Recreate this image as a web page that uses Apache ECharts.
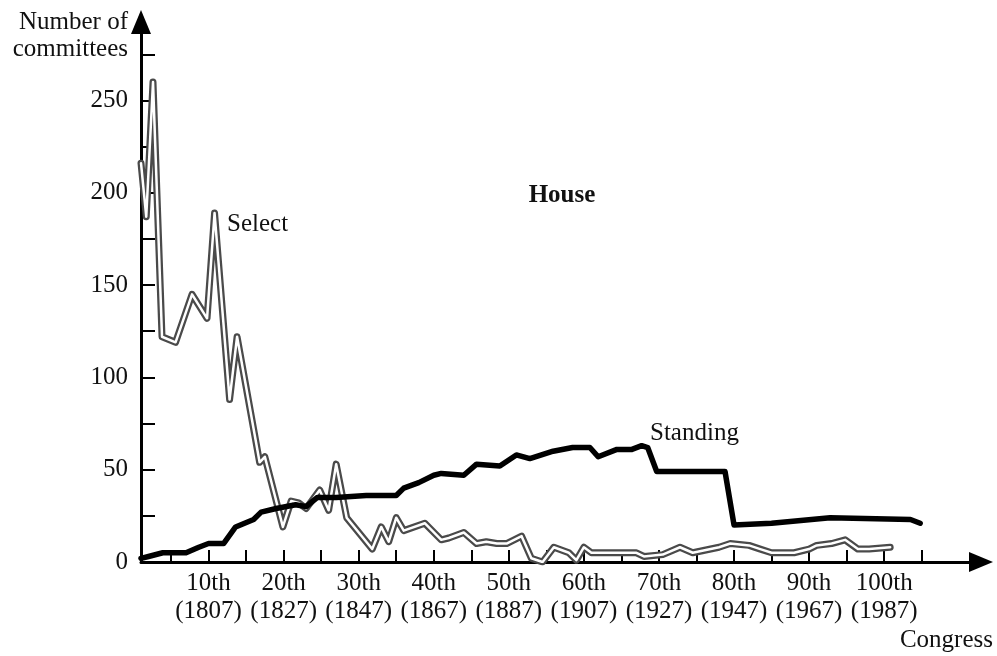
<!DOCTYPE html>
<html>
<head>
<meta charset="utf-8">
<script src="https://cdn.jsdelivr.net/npm/echarts@6/dist/echarts.min.js"></script>
<style>
  html, body { margin: 0; padding: 0; background: #fff; }
  #chart { width: 997px; height: 656px; }
</style>
</head>
<body>
<div id="chart"></div>
<script>
// Select committees (congress number, count)
const selectCongress = [1, 1.7, 2.6, 3.8, 5.6, 7.8, 9.8, 10.8, 12.8, 13.8, 16.8, 17.5, 19.9, 21, 22, 23, 24.8, 26, 27, 28.4, 29,
  31.8, 33, 34, 35, 36, 38.8, 41, 42, 44, 45.7, 47, 48.4, 49.7, 51.7, 53, 54.5, 56, 58, 59, 60, 61, 64.5, 67, 68,
  70.5, 72.8, 74.5, 78, 79.5, 82, 83.5, 85, 88, 90, 91, 93, 94.8, 96.5, 98, 100.8];
const selectCount = [216, 187, 260, 122, 119, 145, 132, 189, 88, 122, 54, 57, 19, 33, 32, 29, 39, 28, 53, 24, 21,
  7, 19, 11, 24, 17, 21, 12, 13, 16, 10, 11, 10, 10, 14, 2, 0, 8, 5, 1, 8, 5, 5, 5, 3,
  4, 8, 5, 8, 10, 9, 7, 5, 5, 7, 9, 10, 12, 7, 7, 8];

// Standing committees
const standingCongress = [1, 2, 3.9, 7, 8.7, 10, 12, 13.6, 16, 17, 19, 21.6, 23, 24.5, 27, 31, 35, 36, 38, 40, 41, 44,
  45.7, 48.8, 51, 52.8, 55.9, 58.5, 60.8, 61.9, 64.4, 66.4, 67.7, 68.5, 69.7, 78.8, 80, 85, 92.8, 103.5, 104.8];
const standingCount = [2, 3, 5, 5, 8, 10, 10, 19, 23, 27, 29, 31, 30, 35, 35, 36, 36, 40, 43, 47, 48, 47,
  53, 52, 58, 56, 60, 62, 62, 57, 61, 61, 63, 62, 49, 49, 20, 21, 24, 23, 21];

// axis ticks and labels
const congressTicks = [5, 10, 15, 20, 25, 30, 35, 40, 45, 50, 55, 60, 65, 70, 75, 80, 85, 90, 95, 100, 105];
const labelCongress = [10, 20, 30, 40, 50, 60, 70, 80, 90, 100];
const congressLabels = ['10th', '20th', '30th', '40th', '50th', '60th', '70th', '80th', '90th', '100th'];
const yearLabels = ['(1807)', '(1827)', '(1847)', '(1867)', '(1887)', '(1907)', '(1927)', '(1947)', '(1967)', '(1987)'];
const countTicks = [25, 50, 75, 100, 125, 150, 175, 200, 225, 250, 275];
const countLabels = [0, 50, 100, 150, 200, 250];

const FONT = '"Liberation Serif", "DejaVu Serif", serif';

const chart = echarts.init(document.getElementById('chart'));

const selectData = selectCongress.map((c, i) => [c, selectCount[i]]);
const standingData = standingCongress.map((c, i) => [c, standingCount[i]]);

const option = {
  animation: false,
  backgroundColor: '#fff',
  grid: { left: 141, right: 16, top: 22, bottom: 94 },
  xAxis: {
    type: 'value',
    min: 1,
    max: 112.9,
    axisLine: {
      lineStyle: { color: '#000', width: 3 },
      symbol: ['none', 'triangle'],
      symbolSize: [20, 24],
    },
    axisTick: {
      inside: true,
      length: 12,
      customValues: congressTicks,
      lineStyle: { color: '#000', width: 2 },
    },
    axisLabel: {
      customValues: labelCongress,
      margin: 7,
      color: '#111',
      fontFamily: FONT,
      fontSize: 25,
      lineHeight: 28,
      formatter: (v) => {
        const i = labelCongress.indexOf(v);
        return congressLabels[i] + '\n' + yearLabels[i];
      },
    },
    splitLine: { show: false },
  },
  yAxis: {
    type: 'value',
    min: 0,
    max: 292.5,
    axisLine: {
      show: true,
      lineStyle: { color: '#000', width: 3 },
      symbol: ['none', 'triangle'],
      symbolSize: [20, 24],
    },
    axisTick: {
      show: true,
      inside: true,
      length: 14,
      customValues: countTicks,
      lineStyle: { color: '#000', width: 2 },
    },
    axisLabel: {
      customValues: countLabels,
      margin: 13,
      color: '#111',
      fontFamily: FONT,
      fontSize: 25,
    },
    splitLine: { show: false },
  },
  series: [
    {
      name: 'Select',
      type: 'line',
      data: selectData,
      showSymbol: false,
      lineStyle: { color: '#4a4a4a', width: 7, join: 'round', cap: 'round' },
      z: 2,
    },
    {
      name: 'Select (inner)',
      type: 'line',
      data: selectData,
      showSymbol: false,
      lineStyle: { color: '#fff', width: 2.5, join: 'round', cap: 'round' },
      z: 3,
    },
    {
      name: 'Standing',
      type: 'line',
      data: standingData,
      showSymbol: false,
      lineStyle: { color: '#000', width: 5.5, join: 'round', cap: 'round' },
      z: 4,
    },
  ],
  graphic: [
    {
      type: 'text', x: 128, y: 9,
      style: { text: 'Number of\ncommittees', font: '25px ' + FONT, fill: '#111', align: 'right', lineHeight: 27 },
    },
    {
      type: 'text', x: 562, y: 196,
      style: { text: 'House', font: 'bold 25px ' + FONT, fill: '#111', align: 'center', verticalAlign: 'middle' },
    },
    {
      type: 'text', x: 227, y: 224,
      style: { text: 'Select', font: '25px ' + FONT, fill: '#111', align: 'left', verticalAlign: 'middle' },
    },
    {
      type: 'text', x: 650, y: 433,
      style: { text: 'Standing', font: '25px ' + FONT, fill: '#111', align: 'left', verticalAlign: 'middle' },
    },
    {
      type: 'text', x: 993, y: 640,
      style: { text: 'Congress', font: '25px ' + FONT, fill: '#111', align: 'right', verticalAlign: 'middle' },
    },
  ],
};

chart.setOption(option);
</script>
</body>
</html>
